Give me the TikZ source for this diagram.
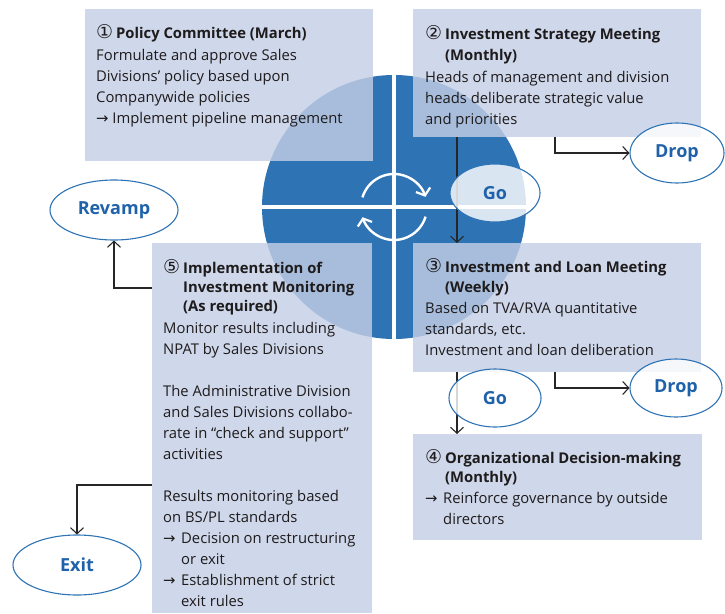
\documentclass[tikz,border=0pt]{standalone}
\usepackage{fontspec}
\setmainfont{Open Sans}
\newfontfamily\symf{DejaVu Sans}
\usetikzlibrary{arrows.meta,shapes.geometric}
\definecolor{circblue}{HTML}{2E74B5}
\definecolor{boxfill}{RGB}{196,206,229}
\definecolor{ovalblue}{HTML}{1F62AA}
\definecolor{ovaledge}{HTML}{2E74B5}
\definecolor{txt}{HTML}{1E1B1C}
\newcommand{\dg}[1]{\makebox[20pt][l]{\raisebox{-0.5pt}{\fontsize{19}{20}\symf #1}}}
\newcommand{\ind}{\hspace*{20pt}}
\newcommand{\ar}{\makebox[18pt][l]{\symf →}}
\newcommand{\arind}{\hspace*{18pt}}
\begin{document}
\begin{tikzpicture}[x=1pt,y=-1pt,
  panel/.style={fill=boxfill, fill opacity=0.81, draw=none, inner sep=0pt, anchor=north west},
  oval/.style={ellipse, draw=ovaledge, line width=1.1pt, fill=white, fill opacity=0.82, text opacity=1,
    text=ovalblue, font=\fontsize{18}{20}\selectfont\bfseries, inner sep=0pt},
  body/.style={anchor=base west, inner sep=0pt, text=txt, font=\fontsize{14.8}{21}\selectfont},
  conn/.style={draw=black!85, line width=1.1pt, -{Straight Barb[length=6pt,width=13pt,line width=1.1pt]}},
  cyc/.style={draw=white, line width=2.4pt, -{Straight Barb[length=6pt,width=15pt,line width=2.2pt]}}
]
\useasboundingbox (0,0) rectangle (725,613);

% central disc with cross
\coordinate (c) at (394,207);
\fill[circblue] (c) circle[radius=132];
\draw[white, line width=4pt] (394,75) -- (394,339);
\draw[white, line width=4pt] (262,207) -- (526,207);
\draw[cyc] (c) ++(197:33) arc[start angle=197, end angle=342, radius=33];
\draw[cyc] (c) ++(17:33) arc[start angle=17, end angle=162, radius=33];

% panels
\node[panel, minimum width=288, minimum height=152] (b1) at (85,9) {};
\node[panel, minimum width=288, minimum height=128] (b2) at (413,9) {};
\node[panel, minimum width=288, minimum height=129] (b3) at (413,243) {};
\node[panel, minimum width=289, minimum height=106] (b4) at (413,434) {};
\node[panel, minimum width=220, minimum height=370] (b5) at (152,243) {};

% connectors
\draw[conn] ([xshift=44pt]b2.south west) -- ([xshift=44pt]b3.north west);
\draw[conn] ([xshift=44pt]b3.south west) -- ([xshift=44pt]b4.north west);

% ovals
\node[oval, minimum width=90, minimum height=58] (go1) at (495,193) {Go};
\node[oval, minimum width=94, minimum height=60] (drop1) at (677,153) {Drop};
\node[oval, minimum width=92, minimum height=58] (go2) at (495,398) {Go};
\node[oval, minimum width=92, minimum height=58] (drop2) at (676,388) {Drop};
\node[oval, minimum width=128, minimum height=60] (revamp) at (114,210) {Revamp};
\node[oval, minimum width=128, minimum height=60] (exitn) at (77,565) {Exit};

\draw[conn] ([xshift=142pt]b2.south west) |- (drop1.west);
\draw[conn] ([xshift=142pt]b3.south west) |- (drop2.west);
\draw[conn] ([yshift=-45pt]b5.north west) -| (revamp.south);
\draw[conn] ([yshift=-242pt]b5.north west) -| (exitn.north);

% texts
\node[body] (t1) at (96,38) {\begin{tabular}[t]{@{}l@{}}
\dg{①}\textbf{Policy Committee (March)}\\[1pt]
Formulate and approve Sales\\
Divisions’ policy based upon\\
Companywide policies\\
{\symf →} Implement pipeline management
\end{tabular}};

\node[body] (t2) at (425,39) {\begin{tabular}[t]{@{}l@{}}
\dg{②}\textbf{Investment Strategy Meeting}\\
\ind\textbf{(Monthly)}\\[1pt]
Heads of management and division\\
heads deliberate strategic value\\
and priorities
\end{tabular}};

\node[body] (t3) at (425,272) {\begin{tabular}[t]{@{}l@{}}
\dg{③}\textbf{Investment and Loan Meeting}\\[-1pt]
\ind\textbf{(Weekly)}\\
Based on TVA/RVA quantitative\\
standards, etc.\\
Investment and loan deliberation
\end{tabular}};

\node[body] (t4) at (425,463) {\begin{tabular}[t]{@{}l@{}}
\dg{④}\textbf{Organizational Decision-making}\\[-2pt]
\ind\textbf{(Monthly)}\\
\ar Reinforce governance by outside\\
\arind directors
\end{tabular}};

\node[body] (t5) at (163,273) {\begin{tabular}[t]{@{}l@{}}
\dg{⑤}\textbf{Implementation of}\\[-2pt]
\ind\textbf{Investment Monitoring}\\[-2pt]
\ind\textbf{(As required)}\\[1pt]
Monitor results including\\
NPAT by Sales Divisions\\
\\
The Administrative Division\\
and Sales Divisions collabo-\\
rate in “check and support”\\
activities\\
\\
Results monitoring based\\
on BS/PL standards\\
\ar Decision on restructuring\\
\arind or exit\\
\ar Establishment of strict\\
\arind exit rules
\end{tabular}};
\end{tikzpicture}
\end{document}
